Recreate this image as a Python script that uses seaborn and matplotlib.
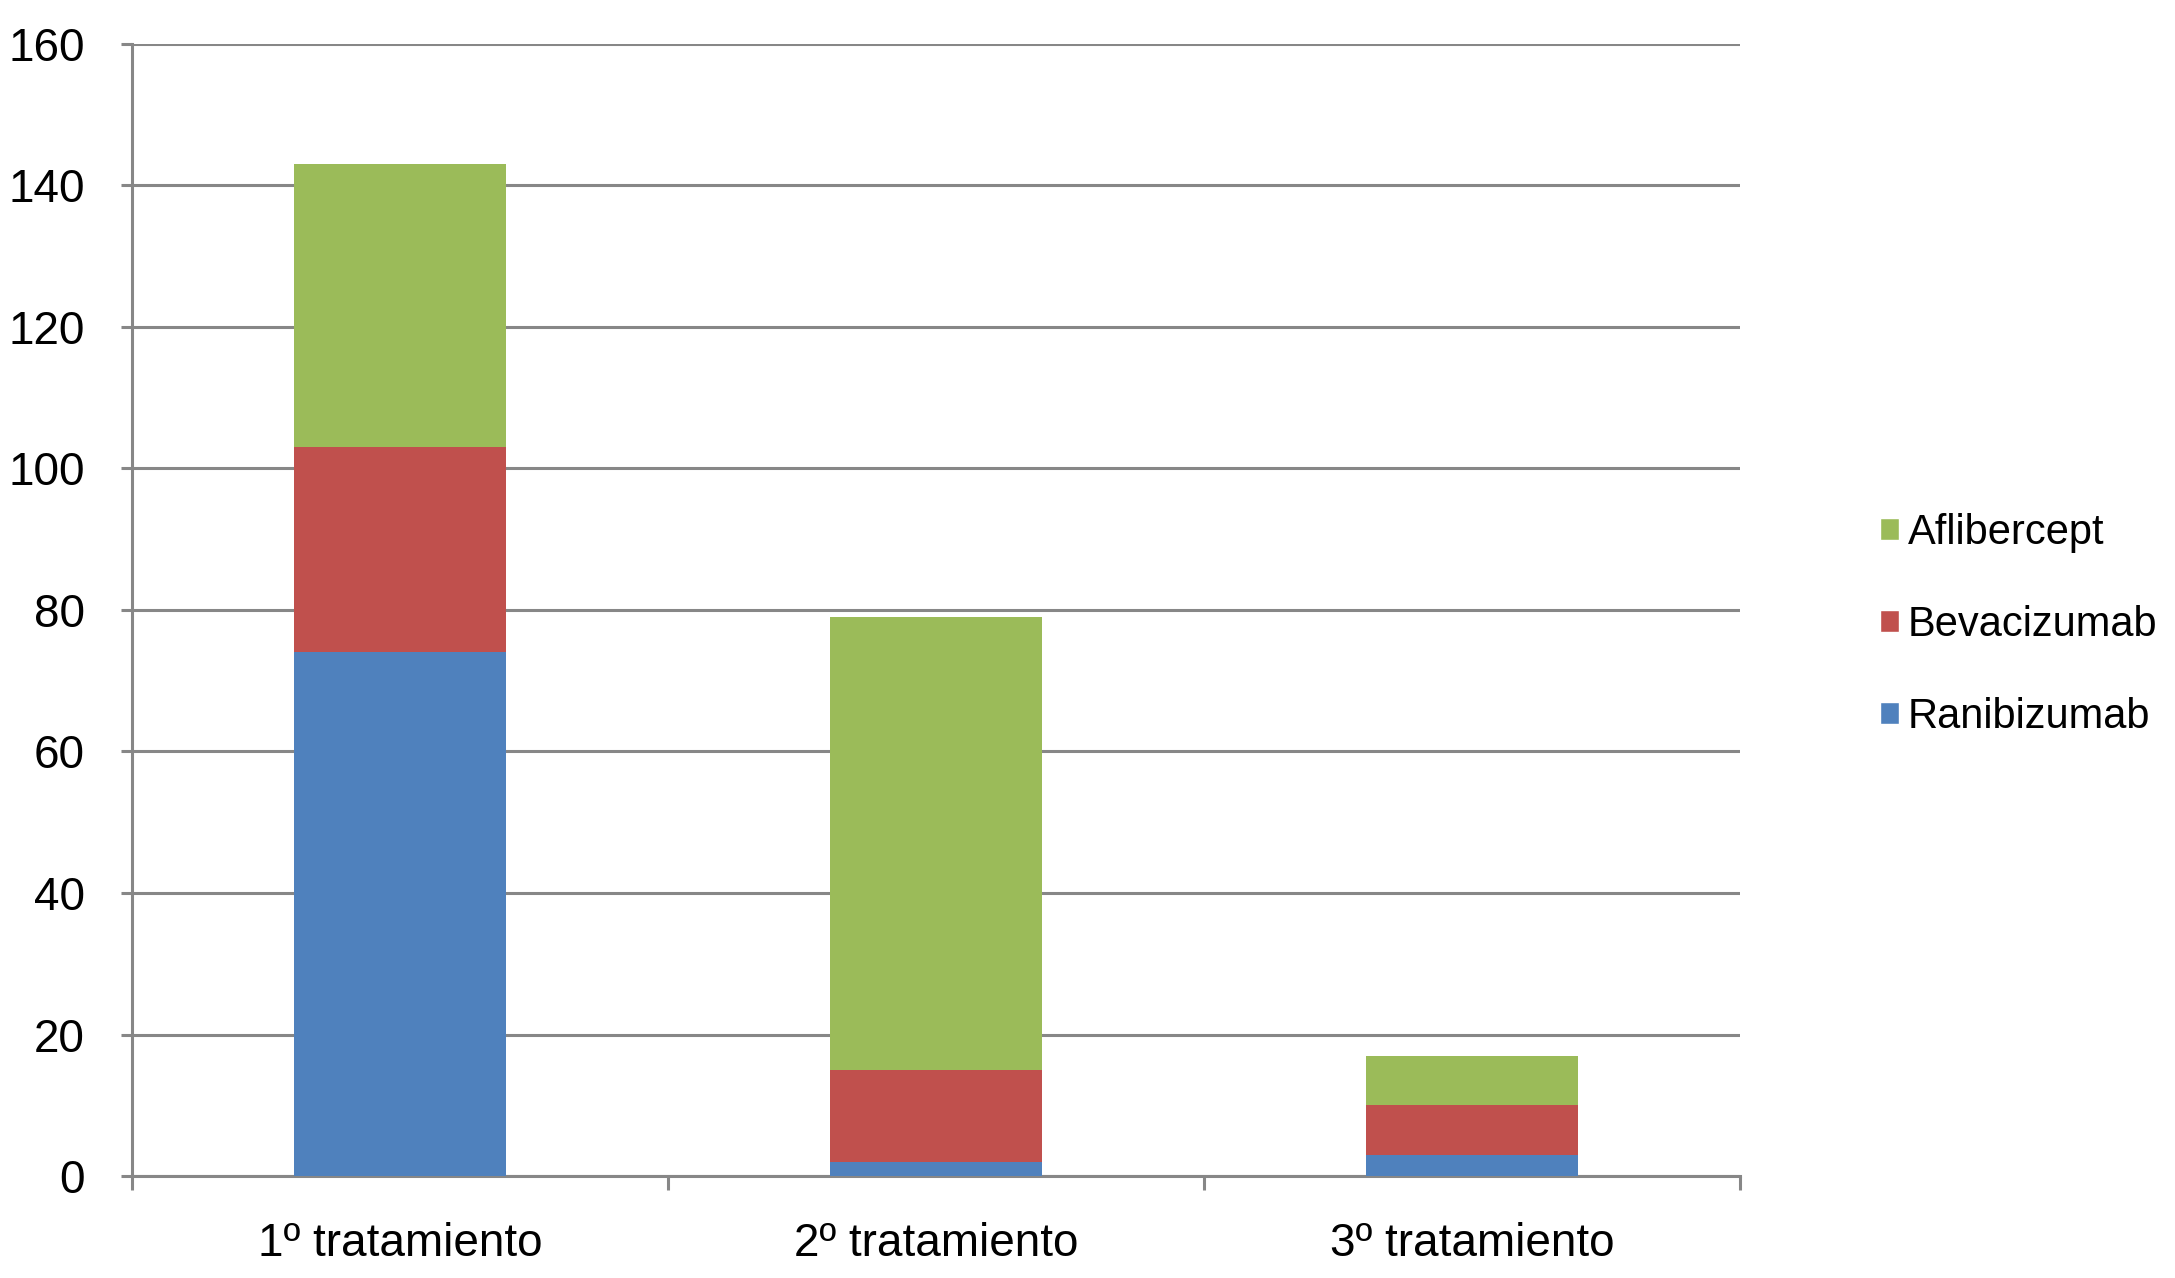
import matplotlib
matplotlib.use("Agg")
from matplotlib import pyplot as plt
from matplotlib.patches import Patch
import numpy as np
import seaborn as sns

# datos
tratamientos = ["1º tratamiento", "2º tratamiento", "3º tratamiento"]
ranibizumab = [74, 2, 3]
bevacizumab = [29, 13, 7]
aflibercept = [40, 64, 7]

series = ["Ranibizumab", "Bevacizumab", "Aflibercept"]
colores = ["#4F81BD", "#C0504D", "#9BBB59"]

sns.set_theme(style="white")
plt.rcParams['font.family'] = ['Liberation Sans', 'DejaVu Sans']

fig = plt.figure(figsize=(21.75, 12.78), dpi=100)
ax = fig.add_axes([0.0607, 0.0798, 0.7393, 0.8858])

base = np.zeros(len(tratamientos))
for nombre, valores, color in zip(series, [ranibizumab, bevacizumab, aflibercept], colores):
    sns.barplot(x=tratamientos, y=valores, bottom=base, color=color,
                width=0.395, saturation=1, linewidth=0, ax=ax, zorder=3)
    base = base + np.array(valores)

gris = "#878787"
ax.set_ylim(0, 160)
ax.set_xlim(-0.5, 2.5)
ax.set_yticks(range(0, 161, 20))
ax.yaxis.grid(True, color=gris, linewidth=2.2)
ax.xaxis.grid(False)
ax.set_axisbelow(True)

for lado in ["top", "right"]:
    ax.spines[lado].set_visible(False)
ax.spines["left"].set_color(gris)
ax.spines["left"].set_linewidth(2.2)
ax.spines["bottom"].set_color(gris)
ax.spines["bottom"].set_linewidth(2.2)

ax.tick_params(axis="y", which="major", left=True, length=8, width=2.2,
               color=gris, pad=26, labelsize=33, labelcolor="black")
ax.tick_params(axis="x", which="major", bottom=False, length=0, pad=33,
               labelsize=33, labelcolor="black")
ax.set_xticks([-0.5, 0.5, 1.5, 2.5], minor=True)
ax.tick_params(axis="x", which="minor", bottom=True, length=10, width=2.2,
               color=gris)
ax.set_xlabel("")
ax.set_ylabel("")

handles = [Patch(facecolor=c, label=s) for s, c in zip(series, colores)][::-1]
fig.legend(handles=handles, loc="center left", bbox_to_anchor=(0.855, 0.511),
           frameon=False, fontsize=30, handlelength=0.45, handleheight=0.45,
           handletextpad=0.2, labelspacing=1.25, borderpad=0,
           labelcolor="black")

fig.savefig("out.png", dpi=100)
